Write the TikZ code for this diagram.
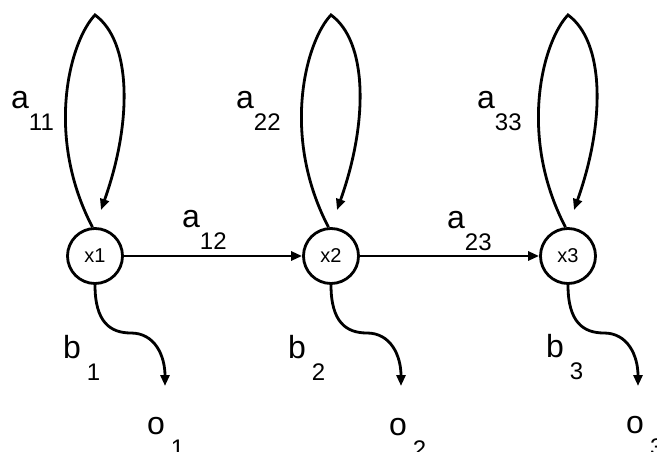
\documentclass[tikz,border=0pt]{standalone}
\usepackage{fontspec}
\setmainfont{Liberation Sans}
\usetikzlibrary{arrows.meta}
\newcommand{\lbl}[3][0pt]{#2\hspace{#1}\raisebox{-22pt}{\fontsize{24}{24}\selectfont #3}}
\newcommand{\statefont}{\fontsize{20}{20}\selectfont}
\tikzset{
  state/.style={circle, draw, line width=2.8pt, minimum size=55pt, inner sep=0pt},
  edge/.style={line width=2.8pt, -{Triangle[length=11pt,width=9pt]}},
  lab/.style={anchor=base west, inner sep=0pt, font=\fontsize{32}{32}\selectfont}
}
\begin{document}
\begin{tikzpicture}[x=1pt,y=-1pt]
  \useasboundingbox (0,0) rectangle (657,452);
  \foreach \n/\x in {1/95, 2/331, 3/568}
  {
    \node[state] (x\n) at (\x,256) {\statefont x\n};
    \coordinate (t\n) at (\x+6,210);
    \coordinate (p\n) at (\x+70,386);
    \draw[edge] (x\n.95) .. controls +(-48,-92) and +(-25,26) .. (\x,15)
      .. controls +(36,26) and +(32,-90) .. (t\n);
    \draw[edge] (x\n.south) .. controls +(0,37) and +(-21,0) .. (\x+36,333)
      .. controls +(24,0) and +(0,-30) .. (p\n);
  }
  \draw[edge] (x1) -- (x2);
  \draw[edge] (x2) -- (x3);
  \node[lab] (a11) at (11,109) {\lbl{a}{11}};
  \node[lab] (a22) at (236,109) {\lbl{a}{22}};
  \node[lab] (a33) at (477,109) {\lbl{a}{33}};
  \node[lab] (a12) at (182,227) {\lbl{a}{12}};
  \node[lab] (a23) at (447,228) {\lbl{a}{23}};
  \node[lab] (b1) at (63,358) {\lbl[6pt]{b}{1}};
  \node[lab] (b2) at (288,358) {\lbl[6pt]{b}{2}};
  \node[lab] (b3) at (546,357) {\lbl[6pt]{b}{3}};
  \node[lab] (o1) at (147,434) {\lbl[6pt]{o}{1}};
  \node[lab] (o2) at (389,435) {\lbl[6pt]{o}{2}};
  \node[lab] (o3) at (626,433) {\lbl[6pt]{o}{3}};
\end{tikzpicture}
\end{document}
